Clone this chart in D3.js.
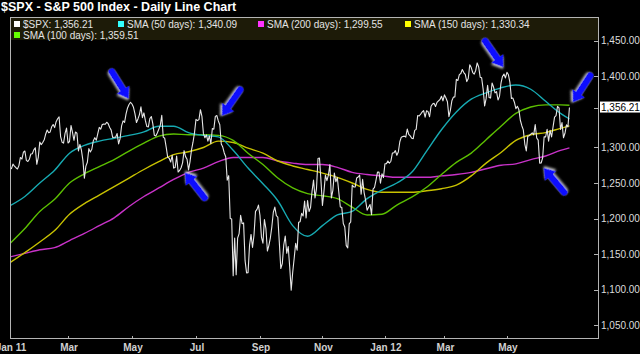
<!DOCTYPE html>
<html>
<head>
<meta charset="utf-8">
<script src="https://cdn.jsdelivr.net/npm/d3@7"></script>
<style>
  body { margin: 0; background: #000; }
  svg { display: block; font-family: "Liberation Sans", Arial, sans-serif; }
</style>
</head>
<body>
<div id="my_dataviz"></div>
<script>
// daily closes, $SPX, Jan 3 2011 .. Jun 29 2012 (trading days)
var spx2011 = [
  1271.87,1270.20,1276.56,1273.85,1271.50,1269.75,1274.48,1285.96,1283.76,1293.24,1295.02,1281.92,1280.26,1283.35,1290.84,1291.18,1296.63,1299.54,1276.34,1286.12,
  1307.59,1304.03,1307.10,1310.87,1319.05,1324.57,1320.88,1321.87,1329.15,1332.32,1328.01,1336.32,1340.43,1343.01,1315.44,1307.40,1306.10,1319.88,1327.22,
  1306.33,1308.44,1330.97,1321.15,1310.13,1321.82,1320.02,1295.11,1304.28,1296.39,1281.87,1256.88,1273.72,1279.20,1298.38,1293.77,1297.54,1309.66,1313.80,1310.19,1319.44,1328.26,1325.83,
  1332.41,1332.87,1332.63,1335.54,1333.51,1328.17,1324.46,1314.16,1314.41,1314.52,1319.68,1305.14,1312.62,1330.36,1337.38,1335.25,1347.24,1355.66,1360.48,1363.61,
  1361.22,1356.62,1347.32,1335.10,1340.20,1346.29,1357.16,1342.08,1348.65,1337.77,1329.47,1328.98,1340.68,1343.60,1333.27,1317.37,1316.28,1320.47,1325.69,1331.10,1345.20,
  1314.55,1312.94,1300.16,1286.17,1284.94,1279.56,1289.00,1270.98,1271.83,1287.87,1265.42,1267.64,1271.50,1278.36,1295.52,1287.14,1283.50,1268.45,1280.10,1296.67,1307.41,1320.64,
  1339.67,1337.88,1339.22,1353.22,1343.80,1319.49,1313.64,1317.72,1308.87,1316.14,1305.44,1326.73,1325.84,1343.80,1345.02,1337.43,1331.94,1304.89,1300.67,1292.28,
  1286.94,1254.05,1260.34,1200.07,1199.38,1119.46,1172.53,1120.76,1172.64,1178.81,1204.49,1192.76,1193.89,1140.65,1123.53,1123.82,1162.35,1177.60,1159.27,1176.80,1210.08,1212.92,1218.89,
  1204.42,1173.97,1165.24,1198.62,1185.90,1154.23,1162.27,1172.87,1188.68,1209.11,1216.01,1204.09,1202.09,1166.76,1129.56,1136.43,1162.95,1175.38,1151.06,1160.40,1131.42,
  1099.23,1123.95,1144.03,1164.97,1155.46,1194.89,1195.54,1207.25,1203.66,1224.58,1200.86,1225.38,1209.88,1215.39,1238.25,1254.19,1229.05,1242.00,1284.59,1285.09,1253.30,
  1218.28,1237.90,1261.15,1253.23,1261.12,1275.92,1229.10,1239.69,1263.85,1251.78,1257.81,1236.91,1216.13,1215.65,1192.98,1188.04,1161.79,1158.67,1192.55,1195.19,1246.96,
  1244.58,1244.28,1257.08,1258.47,1261.01,1234.35,1255.19,1236.47,1225.73,1211.82,1215.75,1219.66,1205.35,1241.30,1243.72,1254.00,1265.33,1265.43,1249.64,1263.02,1257.60
];
var spx2012 = [
  1277.06,1277.30,1281.06,1277.81,1280.70,1292.08,1292.48,1295.50,1289.09,1293.67,1308.04,1314.50,1315.38,1316.00,1314.65,1326.06,1318.43,1316.33,1313.01,1312.41,
  1324.09,1325.54,1344.90,1344.33,1347.05,1349.96,1351.95,1342.64,1351.77,1350.50,1343.23,1358.04,1361.23,1362.21,1357.66,1363.46,1365.74,1367.59,1372.18,1365.68,
  1374.09,1369.63,1364.33,1343.36,1352.63,1365.91,1370.87,1371.09,1395.95,1394.28,1402.60,1404.17,1409.75,1405.52,1402.89,1392.78,1397.11,1416.51,1412.52,1405.54,1403.28,1408.47,
  1419.04,1413.38,1398.96,1398.08,1382.20,1358.59,1368.71,1387.57,1370.26,1369.57,1390.78,1385.14,1376.92,1378.53,1366.94,1371.97,1390.69,1399.98,1403.36,1397.91,
  1405.82,1402.31,1391.57,1369.10,1369.58,1363.72,1354.58,1357.99,1353.39,1338.35,1330.66,1324.80,1304.86,1295.22,1315.99,1316.63,1318.86,1320.68,1317.82,1332.42,1313.32,1310.33,
  1278.04,1278.18,1285.50,1315.13,1314.99,1325.66,1308.93,1324.18,1314.88,1329.10,1342.84,1344.78,1357.98,1355.69,1325.51,1335.02,1313.72,1319.99,1331.85,1329.04,1356.21
];

// moving averages, every 10 trading days
var smaIdx = [0,10,20,30,40,50,60,70,80,90,100,110,120,130,140,150,160,170,180,190,200,210,220,230,240,250,260,270,280,290,300,310,320,330,340,350,360,370,376];
var sma50 = [1218,1231,1250,1268,1292,1303,1309,1313,1317,1322,1330,1330,1321,1317,1315,1296,1271,1249,1225,1190,1175,1190,1205,1210,1228,1240,1250,1265,1295,1325,1350,1368,1377,1384,1388,1382,1365,1348,1340.09];
var sma100 = [1165,1186,1210,1227,1250,1263,1273,1283,1295,1306,1316,1319,1318,1318,1317,1310,1292,1276,1257,1243,1235,1232,1228,1216,1205,1206,1219,1230,1244,1262,1279,1292,1311,1330,1348,1357,1360,1360,1359.51];
var sma150 = [1138,1152,1167,1183,1206,1221,1233,1245,1257,1269,1280,1290,1294,1300,1309,1307,1299,1292,1281,1274,1269,1264,1258,1250,1241,1237,1237,1237,1239,1242,1247,1260,1278,1293,1310,1318,1321,1327,1330.34];
var sma200 = [1146,1151,1156,1159,1169,1179,1190,1201,1217,1231,1243,1255,1265,1271,1280,1286,1286,1286,1281,1278,1276,1276,1272,1265,1262,1260,1258,1258,1258,1260,1262,1265,1270,1275,1277,1283,1288,1296,1299.55];

// x axis: trading-day index of each month tick
var tickIdx = [0,39,82,125,168,210,252,292,334];
var tickLabels = ["Jan 11","Mar","May","Jul","Sep","Nov","Jan 12","Mar","May"];
var yTicks = [1050,1100,1150,1200,1250,1300,1400,1450];

// legend entries
var legendNames = ["$SPX: 1,356.21","SMA (50 days): 1,340.09","SMA (200 days): 1,299.55","SMA (150 days): 1,330.34","SMA (100 days): 1,359.51"];

// arrows: index of the point they mark and the heading
var arrowIdx = [82,140,115,334,376,356];
var arrowAngle = [58,125,-128,55,123,-130];

var price = spx2011.concat(spx2012);

var W = 640, H = 354;
var pLeft = 10, pRight = 598, pTop = 17, pBottom = 338;

var svg = d3.select("#my_dataviz")
  .append("svg")
  .attr("width", W)
  .attr("height", H);

svg.append("rect").attr("width", W).attr("height", H).attr("fill", "#000");

var x = d3.scaleLinear().domain([0, 395.2]).range([pLeft, pRight]);
var y = d3.scaleLinear().domain([1031.8, 1483.7]).range([pBottom, pTop]);

var defs = svg.append("defs");
defs.append("clipPath").attr("id", "plot")
  .append("rect").attr("x", pLeft).attr("y", pTop).attr("width", pRight - pLeft).attr("height", pBottom - pTop);
var glow = defs.append("filter").attr("id", "glow")
  .attr("x", "-30%").attr("y", "-30%").attr("width", "160%").attr("height", "160%");
glow.append("feDropShadow").attr("dx", 1.2).attr("dy", 1.2).attr("stdDeviation", 1)
  .attr("flood-color", "#e8e8e8").attr("flood-opacity", 0.9);

// title
svg.append("text")
  .attr("x", 1).attr("y", 11)
  .attr("fill", "#fff")
  .attr("font-size", "12.5px")
  .attr("font-weight", "bold")
  .text("$SPX - S&P 500 Index - Daily Line Chart");

var plot = svg.append("g").attr("clip-path", "url(#plot)");

var smaLine = d3.line()
  .x(function(d, i) { return x(smaIdx[i]); })
  .y(function(d) { return y(d); })
  .curve(d3.curveMonotoneX);

var smas = [
  {v: sma200, c: "#c832c8"},
  {v: sma150, c: "#c8c200"},
  {v: sma100, c: "#5cbf00"},
  {v: sma50,  c: "#17aab2"}
];
smas.forEach(function(s) {
  plot.append("path")
    .datum(s.v)
    .attr("fill", "none")
    .attr("stroke", s.c)
    .attr("stroke-width", 1.4)
    .attr("d", smaLine);
});

plot.append("path")
  .datum(price)
  .attr("fill", "none")
  .attr("stroke", "#e6e6e6")
  .attr("stroke-width", 1.1)
  .attr("stroke-linejoin", "round")
  .attr("d", d3.line()
    .x(function(d, i) { return x(i); })
    .y(function(d) { return y(d); }));

// legend box
svg.append("rect")
  .attr("x", pLeft).attr("y", pTop)
  .attr("width", pRight - pLeft).attr("height", 23)
  .attr("fill", "#1d1b08");

var legendColors = ["#ffffff","#33ffff","#ff33ff","#ffff00","#66ff00"];
var legendPos = [[14,21],[118,21],[258,21],[405,21],[14,32]];
legendNames.forEach(function(name, i) {
  var g = svg.append("g").attr("transform", "translate(" + legendPos[i][0] + "," + legendPos[i][1] + ")");
  g.append("rect").attr("width", 6).attr("height", 6).attr("fill", legendColors[i]);
  g.append("text").attr("x", 9).attr("y", 6.5)
    .attr("fill", "#e4e4e4").attr("font-size", "10px").text(name);
});

// frame
svg.append("rect")
  .attr("x", pLeft + 0.5).attr("y", pTop + 0.5)
  .attr("width", pRight - pLeft).attr("height", pBottom - pTop)
  .attr("fill", "none").attr("stroke", "#b4b4b4").attr("stroke-width", 1);

// right axis
var yAxis = svg.append("g").attr("transform", "translate(" + pRight + ",0)");
yTicks.forEach(function(t) {
  yAxis.append("line").attr("x1", -4).attr("x2", 0)
    .attr("y1", Math.round(y(t)) + 0.5).attr("y2", Math.round(y(t)) + 0.5)
    .attr("stroke", "#b4b4b4");
  yAxis.append("text").attr("x", 3).attr("y", y(t) + 3.5)
    .attr("fill", "#dcdcdc").attr("font-size", "10px")
    .text(d3.format(",.2f")(t));
});
var last = price[price.length - 1];
yAxis.append("line").attr("x1", -4).attr("x2", 0)
  .attr("y1", Math.round(y(last)) + 0.5).attr("y2", Math.round(y(last)) + 0.5)
  .attr("stroke", "#b4b4b4");
yAxis.append("rect").attr("x", 2).attr("y", y(last) - 6)
  .attr("width", 42).attr("height", 11).attr("fill", "#fff");
yAxis.append("text").attr("x", 3).attr("y", y(last) + 3.5)
  .attr("fill", "#000").attr("font-size", "10px")
  .text(d3.format(",.2f")(last));

// bottom axis
var xAxis = svg.append("g");
tickIdx.forEach(function(t, i) {
  xAxis.append("line").attr("x1", Math.round(x(t)) + 0.5).attr("x2", Math.round(x(t)) + 0.5)
    .attr("y1", pBottom - 2).attr("y2", pBottom)
    .attr("stroke", "#b4b4b4");
  xAxis.append("text").attr("x", x(t) + 1).attr("y", 351)
    .attr("text-anchor", "middle")
    .attr("fill", "#d0d0d0").attr("font-size", "10px").attr("font-weight", "bold")
    .text(tickLabels[i]);
});

// blue arrows
var L = 32;
var arrowPath = "M" + (-L) + ",-3.5 L-11,-3.5 L-11,-7.5 L0,0 L-11,7.5 L-11,3.5 L" + (-L) + ",3.5 A3.5,3.5 0 0 1 " + (-L) + ",-3.5 Z";
arrowIdx.forEach(function(idx, k) {
  var a = arrowAngle[k] * Math.PI / 180;
  var px = x(idx), py = y(price[idx]);
  var tx = px - 6 * Math.cos(a), ty = py - 6 * Math.sin(a);
  svg.append("path")
    .attr("d", arrowPath)
    .attr("fill", "#0a0aff")
    .attr("filter", "url(#glow)")
    .attr("transform", "translate(" + tx + "," + ty + ") rotate(" + arrowAngle[k] + ")");
});
</script>
</body>
</html>
